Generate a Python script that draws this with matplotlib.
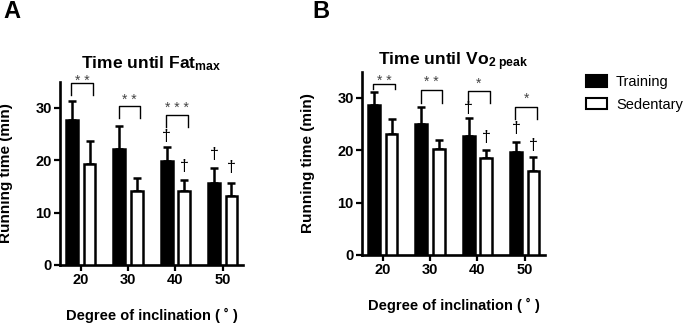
import matplotlib
matplotlib.use("Agg")
import matplotlib.pyplot as plt
from matplotlib.patches import Patch
import numpy as np

plt.rcParams['font.family'] = ['Liberation Sans', 'DejaVu Sans']
plt.rcParams['mathtext.fontset'] = 'custom'
plt.rcParams['mathtext.rm'] = 'Liberation Sans'
plt.rcParams['mathtext.bf'] = 'Liberation Sans:bold'
plt.rcParams['mathtext.it'] = 'Liberation Sans:italic'

# ---------------- data ----------------
degrees = ["20", "30", "40", "50"]

fat_training = [27.6, 22.2, 19.8, 15.6]
fat_training_err = [3.7, 4.4, 2.7, 3.0]
fat_sedentary = [19.3, 14.2, 14.2, 13.1]
fat_sedentary_err = [4.4, 2.4, 2.0, 2.5]

vo2_training = [28.7, 25.0, 22.7, 19.6]
vo2_training_err = [2.5, 3.3, 3.4, 1.9]
vo2_sedentary = [23.1, 20.3, 18.5, 16.0]
vo2_sedentary_err = [2.9, 1.6, 1.6, 2.7]

# significance brackets: (group index, bracket top, leg bottom, label, label baseline y)
fat_sig = [(0, 34.7, 32.4, "* *", 34.4), (1, 30.3, 28.0, "* *", 30.8), (2, 28.6, 26.3, "* * *", 29.2)]
vo2_sig = [(0, 32.6, 31.7, "* *", 32.5), (1, 31.6, 29.1, "* *", 32.2),
           (2, 31.4, 29.0, "*", 32.0), (3, 28.3, 26.0, "*", 29.1)]
# daggers: (group index, series 0=training 1=sedentary, y)
fat_dag = [(2, 0, 24.5), (2, 1, 18.8), (3, 0, 21.1), (3, 1, 18.6)]
vo2_dag = [(2, 0, 27.9), (2, 1, 22.5), (3, 0, 24.1), (3, 1, 20.9)]

W, H = 686, 324
fig = plt.figure(figsize=(W / 100, H / 100), dpi=100)

def px_axes(l, r, b, t):
    return fig.add_axes([l / W, 1 - b / H, (r - l) / W, (b - t) / H])

axA = px_axes(60, 243, 265, 81.7)
axB = px_axes(362, 545, 255, 71.7)

off = 0.185
bw = 0.25
lw = 1.8

def draw(ax, tr, tre, se, see, sig, dag, title, ylab_x, xlab_y, title_y):
    x = np.arange(len(degrees))
    ax.bar(x - off, tr, bw, color='black', edgecolor='black', linewidth=lw, zorder=3)
    ax.bar(x + off, se, bw, color='white', edgecolor='black', linewidth=lw, zorder=3)
    ax.errorbar(x - off, tr, yerr=[np.zeros(len(tr)), tre], fmt='none', ecolor='black',
                elinewidth=lw, capsize=3, capthick=lw, zorder=2)
    ax.errorbar(x + off, se, yerr=[np.zeros(len(se)), see], fmt='none', ecolor='black',
                elinewidth=lw, capsize=3, capthick=lw, zorder=2)
    ax.set_xlim(-0.44, 3.43)
    ax.set_ylim(0, 35)
    ax.set_yticks([0, 10, 20, 30])
    ax.set_xticks(x)
    ax.set_xticklabels(degrees)
    for s in ['top', 'right']:
        ax.spines[s].set_visible(False)
    for s in ['left', 'bottom']:
        ax.spines[s].set_linewidth(1.9)
    ax.tick_params(width=1.6, length=4, labelsize=10.5, pad=2)
    for lab in ax.get_xticklabels() + ax.get_yticklabels():
        lab.set_fontweight('bold')
    ax.set_ylabel("Running time (min)", fontsize=11, fontweight='bold')
    ax.yaxis.set_label_coords(ylab_x, 0.5)
    ax.set_xlabel("Degree of inclination ( \u02da )", fontsize=10.5, fontweight='bold')
    ax.xaxis.set_label_coords(0.5, xlab_y)
    ax.text(0.5, title_y, title, transform=ax.transAxes, ha='center', va='center',
            fontsize=12.6, fontweight='bold')
    for (g, top, bot, lab, ly) in sig:
        xl, xr = g - 0.2, g + 0.26
        ax.plot([xl, xl, xr, xr], [bot, top, top, bot], color='black', lw=1.0,
                clip_on=False, zorder=4)
        ax.text((xl + xr) / 2, ly, lab, ha='center', va='baseline', fontsize=10,
                color='#444444', clip_on=False)
    for (g, s, y) in dag:
        xx = g - off if s == 0 else g + off
        ax.text(xx, y, "\u2020", ha='center', va='center', fontsize=11.5, clip_on=False)

draw(axA, fat_training, fat_training_err, fat_sedentary, fat_sedentary_err, fat_sig, fat_dag,
     r"Time until Fat$_{\mathbf{max}}$", -0.257, -0.235, 1.10)
draw(axB, vo2_training, vo2_training_err, vo2_sedentary, vo2_sedentary_err, vo2_sig, vo2_dag,
     r"Time until Vo$_{\mathbf{2\ peak}}$", -0.257, -0.235, 1.053)

fig.text(11.5 / W, 1 - 11.5 / H, "A", fontsize=17, fontweight='bold', ha='center', va='center')
fig.text(321 / W, 1 - 11.5 / H, "B", fontsize=17, fontweight='bold', ha='center', va='center')

handles = [Patch(facecolor='black', edgecolor='black', linewidth=1.5, label='Training'),
           Patch(facecolor='white', edgecolor='black', linewidth=1.5, label='Sedentary')]
fig.legend(handles=handles, loc='upper left', bbox_to_anchor=(586 / W, 1 - 75 / H),
           frameon=False, fontsize=10.5, handlelength=1.45, handleheight=0.82,
           handletextpad=0.6, borderpad=0, borderaxespad=0, labelspacing=0.6)

fig.savefig("out.png", dpi=100)
